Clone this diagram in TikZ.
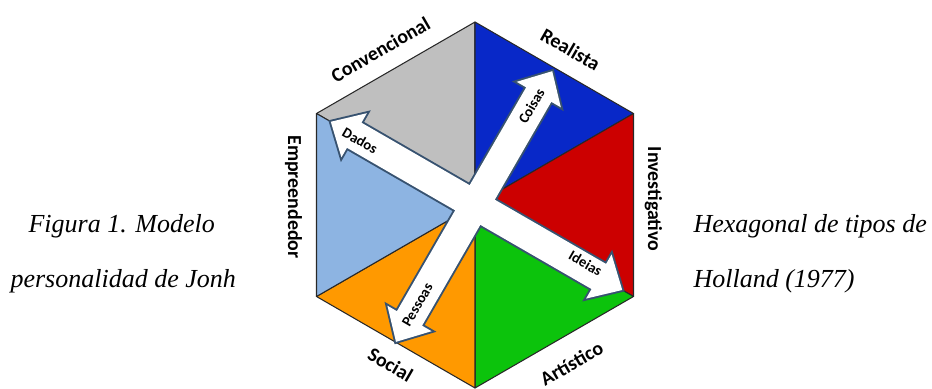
\documentclass[tikz,border=0pt]{standalone}
\usepackage{fontspec}
\setmainfont{Liberation Serif}
\newfontfamily\rotulofont{Carlito}
\definecolor{convcinza}{RGB}{191,191,191}
\definecolor{realazul}{RGB}{8,40,200}
\definecolor{investverm}{RGB}{204,0,0}
\definecolor{artverde}{RGB}{12,195,12}
\definecolor{socallaranja}{RGB}{255,153,0}
\definecolor{empazul}{RGB}{141,180,226}
\definecolor{aresta}{RGB}{40,40,40}
\definecolor{contorno}{RGB}{55,82,112}
\begin{document}
\begin{tikzpicture}[line join=round,line width=0.6pt,
  tipo/.style={font=\rotulofont\bfseries\fontsize{11.3}{13}\selectfont,inner sep=0pt},
  eixo/.style={font=\rotulofont\bfseries\fontsize{8.3}{10}\selectfont,inner sep=0pt},
  legenda/.style={font=\itshape\fontsize{14.8}{17}\selectfont,anchor=base west,inner sep=0pt},
  triangulo/.style={draw=aresta,line width=0.6pt},
  setafora/.style={draw=contorno,line width=2.2pt,line join=miter},
  setadentro/.style={fill=white}]
\useasboundingbox (-9.5,-3.66) rectangle (9.14,4.10);

% vertices do hexagono
\coordinate (O) at (0,0);
\coordinate (Vtop) at (90:3.66);
\coordinate (Vur) at (30:3.66);
\coordinate (Vlr) at (-30:3.66);
\coordinate (Vbot) at (-90:3.66);
\coordinate (Vll) at (-150:3.66);
\coordinate (Vul) at (150:3.66);

\filldraw[triangulo,fill=convcinza](O)--(Vul)--(Vtop)--cycle;
\filldraw[triangulo,fill=realazul](O)--(Vtop)--(Vur)--cycle;
\filldraw[triangulo,fill=investverm](O)--(Vur)--(Vlr)--cycle;
\filldraw[triangulo,fill=artverde](O)--(Vlr)--(Vbot)--cycle;
\filldraw[triangulo,fill=socallaranja](O)--(Vbot)--(Vll)--cycle;
\filldraw[triangulo,fill=empazul](O)--(Vll)--(Vul)--cycle;

% setas: contorno primeiro, depois o branco por cima
\foreach \estilo in {setafora,setadentro}{
  \begin{scope}[rotate=-30]
    \path[\estilo](3.40,0)--(2.86,0.51)--(2.86,0.29)--(-2.79,0.29)--(-2.79,0.51)--(-3.33,0)
      --(-2.79,-0.51)--(-2.79,-0.29)--(2.86,-0.29)--(2.86,-0.51)--cycle;
  \end{scope}
  \begin{scope}[rotate=60]
    \path[\estilo](3.09,0)--(2.55,0.51)--(2.55,0.29)--(-2.62,0.29)--(-2.62,0.51)--(-3.16,0)
      --(-2.62,-0.51)--(-2.62,-0.29)--(2.55,-0.29)--(2.55,-0.51)--cycle;
  \end{scope}
}

\node[eixo,rotate=-30] (dados) at (-2.30,1.29) {Dados};
\node[eixo,rotate=-30] (ideias) at (2.21,-1.17) {Ideias};
\node[eixo,rotate=60] (coisas) at (1.13,1.98) {Coisas};
\node[eixo,rotate=60] (pessoas) at (-1.15,-2.00) {Pessoas};

\node[tipo,rotate=30] (conv) at (-1.89,3.11) {Convencional};
\node[tipo,rotate=-30] (real) at (1.91,3.11) {Realista};
\node[tipo,rotate=-90] (invest) at (3.57,0.12) {Investigativo};
\node[tipo,rotate=-90] (empreend) at (-3.63,0.16) {Empreendedor};
\node[tipo,rotate=-30] (social) at (-1.69,-3.19) {Social};
\node[tipo,rotate=30] (artist) at (1.93,-3.17) {Artístico};

\node[legenda] (leg1) at (-8.94,-0.54) {Figura 1. Modelo};
\node[legenda] (leg2) at (-9.30,-1.64) {personalidad de Jonh};
\node[legenda] (leg3) at (4.36,-0.54) {Hexagonal de tipos de};
\node[legenda] (leg4) at (4.36,-1.64) {Holland (1977)};
\end{tikzpicture}
\end{document}
